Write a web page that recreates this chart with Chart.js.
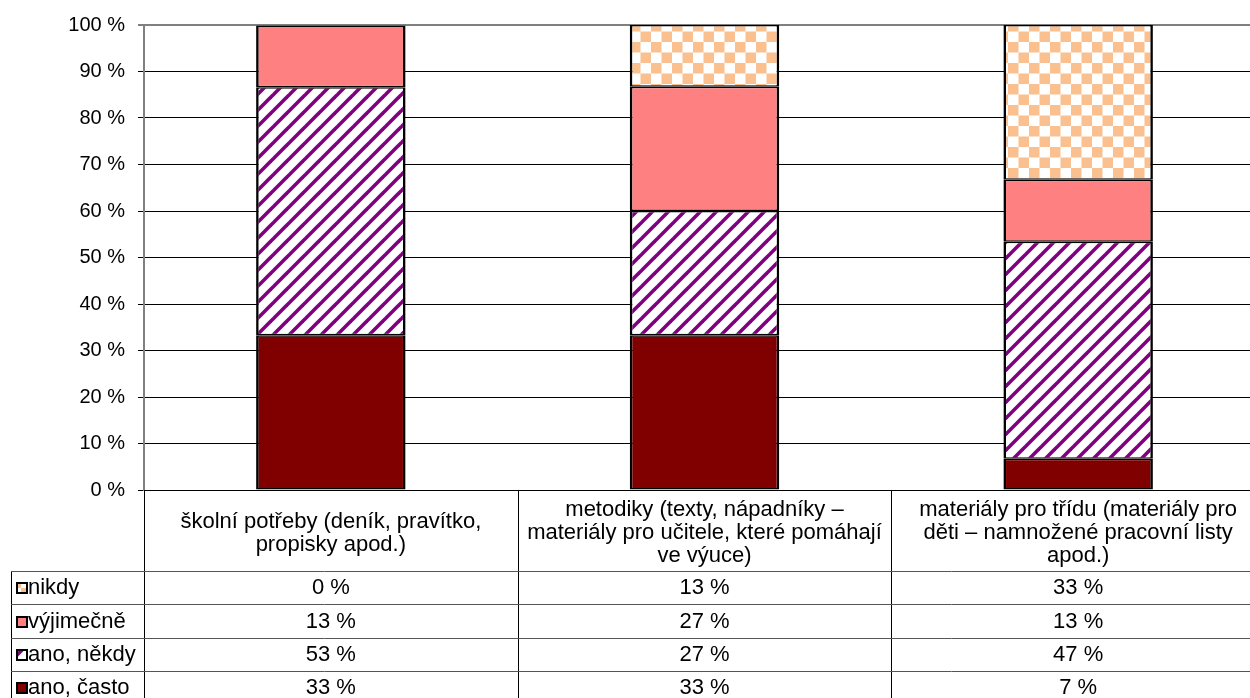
<!DOCTYPE html>
<html>
<head>
<meta charset="utf-8">
<script src="https://cdn.jsdelivr.net/npm/chart.js@4.4.1/dist/chart.umd.min.js"></script>
<style>
html,body{margin:0;padding:0;background:#fff;overflow:hidden;width:1250px;height:698px;}
canvas{display:block;}
</style>
</head>
<body>
<canvas id="c" width="1265" height="698"></canvas>
<script>
// ---- data ----
const categories = [
  ["školní potřeby (deník, pravítko,", "propisky apod.)"],
  ["metodiky (texty, nápadníky –", "materiály pro učitele, které pomáhají", "ve výuce)"],
  ["materiály pro třídu (materiály pro", "děti – namnožené pracovní listy", "apod.)"]
];
const seriesNames = ["ano, často", "ano, někdy", "výjimečně", "nikdy"];
const anoCasto  = [33.3, 33.3, 6.7];
const anoNekdy  = [53.3, 26.7, 46.7];
const vyjimecne = [13.3, 26.7, 13.3];
const nikdy     = [0, 13.3, 33.3];
const yTickValues = [0, 10, 20, 30, 40, 50, 60, 70, 80, 90, 100];

// ---- patterns ----
function stripePattern(ctx) {
  const s = 16, t = document.createElement('canvas');
  t.width = s; t.height = s;
  const g = t.getContext('2d');
  g.fillStyle = '#ffffff'; g.fillRect(0, 0, s, s);
  g.strokeStyle = '#800080'; g.lineWidth = 3.6;
  [[-s, s, s, -s], [0, s, s, 0], [0, 2 * s, 2 * s, 0]].forEach(l => {
    g.beginPath(); g.moveTo(l[0], l[1]); g.lineTo(l[2], l[3]); g.stroke();
  });
  return ctx.createPattern(t, 'repeat');
}
function checkerPattern(ctx) {
  const s = 21, h = 10.5, t = document.createElement('canvas');
  t.width = s; t.height = s;
  const g = t.getContext('2d');
  g.fillStyle = '#ffffff'; g.fillRect(0, 0, s, s);
  g.fillStyle = '#FAC090';
  g.fillRect(0, 0, h, h);
  g.fillRect(h, h, h, h);
  return ctx.createPattern(t, 'repeat');
}

const canvas = document.getElementById('c');
const ctx0 = canvas.getContext('2d');
const fills = ['#800000', stripePattern(ctx0), '#FF8080', checkerPattern(ctx0)];
const seriesData = [anoCasto, anoNekdy, vyjimecne, nikdy];

Chart.defaults.font.family = '"Liberation Sans", Arial, sans-serif';
Chart.defaults.color = '#000';

const FONT_TABLE = '22px "Liberation Sans", Arial, sans-serif';
const CAT_H = 81, ROW_H = 33.4, LEG_LEFT = 11;

const tablePlugin = {
  id: 'dataTable',
  afterDraw(chart) {
    const ctx = chart.ctx, xs = chart.scales.x, ca = chart.chartArea;
    const n = categories.length;
    const edges = [ca.left];
    for (let i = 0; i < n - 1; i++) {
      edges.push((xs.getPixelForValue(i) + xs.getPixelForValue(i + 1)) / 2);
    }
    edges.push(ca.right);
    const top = ca.bottom, rowTop = top + CAT_H;
    const bottom = chart.height + 10;
    ctx.save();
    ctx.strokeStyle = '#000'; ctx.lineWidth = 1;
    edges.forEach(x => {
      const xx = Math.round(x) + 0.5;
      ctx.beginPath(); ctx.moveTo(xx, top); ctx.lineTo(xx, bottom); ctx.stroke();
    });
    ctx.beginPath(); ctx.moveTo(LEG_LEFT + 0.5, rowTop); ctx.lineTo(LEG_LEFT + 0.5, bottom); ctx.stroke();
    ctx.strokeStyle = '#555';
    for (let r = 0; r < seriesNames.length; r++) {
      const y = Math.round(rowTop + r * ROW_H) + 0.5;
      ctx.beginPath(); ctx.moveTo(LEG_LEFT, y); ctx.lineTo(ca.right, y); ctx.stroke();
    }
    ctx.fillStyle = '#000';
    ctx.font = FONT_TABLE;
    ctx.textAlign = 'center'; ctx.textBaseline = 'middle';
    const lh = 23;
    categories.forEach((lines, i) => {
      const cx = xs.getPixelForValue(i);
      const cy = top + CAT_H / 2 + 2.5;
      const y0 = cy - (lines.length - 1) * lh / 2;
      lines.forEach((ln, k) => ctx.fillText(ln, cx, y0 + k * lh));
    });
    const order = [3, 2, 1, 0];
    order.forEach((si, r) => {
      const cy = rowTop + r * ROW_H + ROW_H / 2 + 0.5;
      const kx = 17, ky = Math.round(cy - 5);
      ctx.fillStyle = fills[si];
      ctx.fillRect(kx, ky, 10, 10);
      ctx.strokeStyle = '#000'; ctx.lineWidth = 2;
      ctx.strokeRect(kx, ky, 10, 10);
      ctx.fillStyle = '#000';
      ctx.textAlign = 'left';
      ctx.fillText(seriesNames[si], 28, cy);
      ctx.textAlign = 'center';
      seriesData[si].forEach((v, i) => {
        ctx.fillText(Math.round(v) + ' %', xs.getPixelForValue(i), cy);
      });
    });
    ctx.restore();
  }
};

new Chart(canvas, {
  type: 'bar',
  data: {
    labels: categories,
    datasets: seriesNames.map((name, i) => ({
      label: name,
      data: seriesData[i],
      backgroundColor: fills[i],
      borderColor: '#000',
      borderWidth: { left: 2.6, right: 2.6, top: 1.5, bottom: 1.5 },
      borderSkipped: false,
      barPercentage: 0.4,
      categoryPercentage: 1.0
    }))
  },
  options: {
    responsive: false,
    animation: false,
    devicePixelRatio: 1,
    layout: { padding: { top: 24, right: 0, left: 0, bottom: 208 } },
    plugins: { legend: { display: false }, tooltip: { enabled: false } },
    scales: {
      x: {
        stacked: true,
        grid: { display: false },
        border: { display: false },
        ticks: { display: false },
        afterFit: s => { s.height = 0; }
      },
      y: {
        stacked: true,
        min: 0, max: 100,
        afterBuildTicks: s => { s.ticks = yTickValues.map(v => ({ value: v })); },
        ticks: {
          callback: v => v + ' %',
          font: { size: 20 },
          color: '#000',
          padding: 13
        },
        grid: {
          tickLength: 6,
          color: c => c.tick && c.tick.value === 100 ? '#808080' : '#000',
          lineWidth: c => c.tick && c.tick.value === 100 ? 2 : 1
        },
        border: { color: '#808080', width: 2 },
        afterFit: s => { s.width = 144; }
      }
    }
  },
  plugins: [tablePlugin]
});
</script>
</body>
</html>
